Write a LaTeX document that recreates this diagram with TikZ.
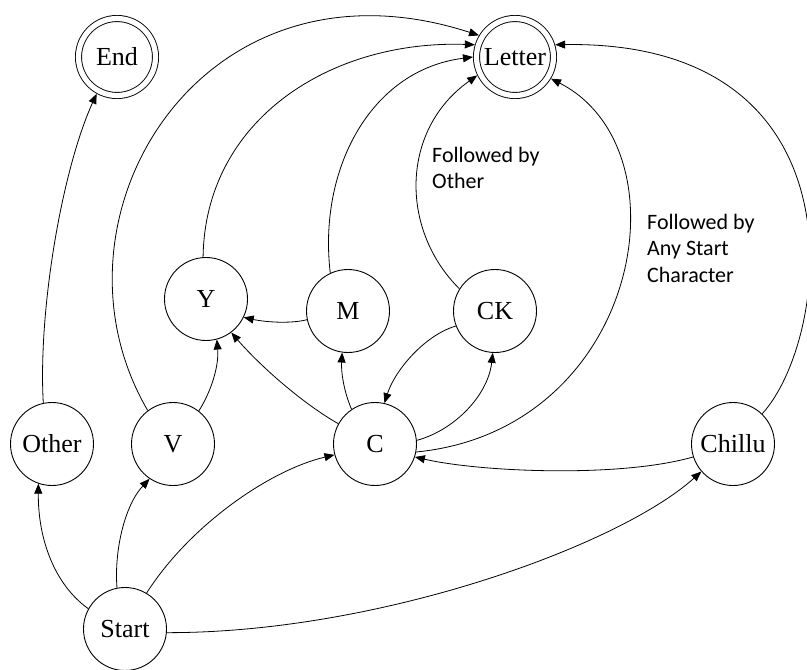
\documentclass[tikz,border=0pt]{standalone}
\usepackage{fontspec}
\setmainfont{Liberation Serif}
\newfontfamily\labfont{Carlito}
\usetikzlibrary{arrows.meta}
\begin{document}
\begin{tikzpicture}[x=1pt,y=-1pt,
  state/.style={circle,draw,line width=0.9pt,minimum size=83pt,inner sep=0pt,font=\fontsize{26}{30}\selectfont},
  final/.style={circle,draw,line width=0.9pt,double,double distance=5.2pt,minimum size=77pt,inner sep=0pt,outer sep=3.5pt,font=\fontsize{26}{30}\selectfont},
  edge/.style={line width=0.8pt,-{Triangle[length=10pt,width=8pt]}},
  lab/.style={anchor=north west,inner sep=0pt,align=left,font=\labfont\fontsize{22}{26.5}\selectfont}]
\useasboundingbox (0,0) rectangle (807,670);
\node[final] (End) at (117,57) {End};
\node[final] (Letter) at (515,57) {Letter};
\node[state] (Y) at (206,299) {Y};
\node[state] (M) at (348,311) {M};
\node[state] (CK) at (495,311) {CK};
\node[state] (Other) at (52,444) {Other};
\node[state] (V) at (173,444) {V};
\node[state] (C) at (375,444) {C};
\node[state] (Chillu) at (733,444) {Chillu};
\node[state] (Start) at (125,629) {Start};

\draw[edge] (Other.102) .. controls (38,310) and (62,170) .. (End.241);
\draw[edge] (Start.151) .. controls (55,585) and (38,540) .. (Other.251);
\draw[edge] (Start.101) .. controls (114,550) and (125,505) .. (V.236);
\draw[edge] (Start.59) .. controls (190,525) and (270,470) .. (C.195);
\draw[edge] (Start.355) .. controls (380,633) and (620,545) .. (Chillu.221);
\draw[edge] (V.52) .. controls (212,390) and (219,365) .. (Y.285);
\draw[edge] (V.127) .. controls (36,220) and (200,-55) .. (Letter.149);
\draw[edge] (Y.94) .. controls (205,120) and (330,40) .. (Letter.163);
\draw[edge] (M.115) .. controls (318,170) and (370,70) .. (Letter.180);
\draw[edge] (CK.148) .. controls (400,230) and (400,130) .. (Letter.206);
\draw[edge] (M.192) .. controls (290,324) and (265,322) .. (Y.334);
\draw[edge] (C.151) .. controls (305,405) and (262,368) .. (Y.307);
\draw[edge] (C.124) .. controls (344,392) and (341,372) .. (M.262);
\draw[edge] (CK.201) .. controls (425,335) and (395,370) .. (C.77);
\draw[edge] (C.5) .. controls (455,430) and (488,395) .. (CK.267);
\draw[edge] (C.349) .. controls (640,430) and (690,150) .. (Letter.329);
\draw[edge] (Chillu.46) .. controls (830,340) and (870,40) .. (Letter.17);
\draw[edge] (Chillu.198) .. controls (620,478) and (480,472) .. (C.342);

\node[lab] (l1) at (432,147) {Followed by\\Other};
\node[lab] (l2) at (647,214) {Followed by\\Any Start\\Character};
\end{tikzpicture}
\end{document}
